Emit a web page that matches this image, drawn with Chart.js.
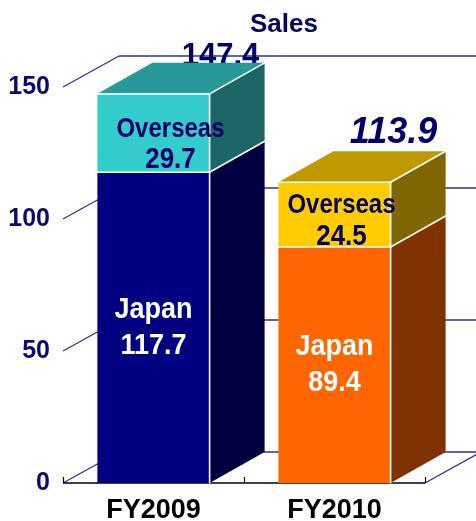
<!DOCTYPE html>
<html><head><meta charset="utf-8">
<script src="https://cdn.jsdelivr.net/npm/chart.js@4.4.1/dist/chart.umd.min.js"></script>
<style>html,body{margin:0;padding:0;background:#fff;overflow:hidden}</style>
</head><body>
<canvas id="c" width="476" height="521" style="width:476px;height:521px;display:block"></canvas>
<script>
const categories = ['FY2009', 'FY2010'];
const seriesNames = ['Japan', 'Overseas'];
const japanSales = [117.7, 89.4];
const overseasSales = [29.7, 24.5];
const yTickValues = [0, 50, 100, 150];
const chartTitle = 'Sales';

const FONT = "'Liberation Sans', Arial, Helvetica, sans-serif";
const NAVY = '#000066';
const GRID = '#2e2e98';
const DXW = 56, DYW = -31;   // wall depth
const DXB = 55, DYB = -31;   // bar depth
const colors = {
  japanFront: ['#000080', '#FF6600'],
  japanSide:  ['#000040', '#803300'],
  overFront:  ['#33CCCC', '#FFCC00'],
  overSide:   ['#1D6666', '#806600'],
  overTop:    ['#269999', '#BF9900']
};
const totalFonts = ['bold 31px ' + FONT, 'italic bold 36px ' + FONT];
const totalOffset = [[67, -29], [59, -39]];      // label anchor relative to bar front centre / top
const overseasOffset = [[17, -3], [7, -9]];      // first line relative to segment centre
const overseasGap = [30, 31];
const STRETCH = 1.12;

function poly(ctx, pts, fill) {
  ctx.beginPath();
  ctx.moveTo(pts[0][0], pts[0][1]);
  for (let i = 1; i < pts.length; i++) ctx.lineTo(pts[i][0], pts[i][1]);
  ctx.closePath();
  ctx.fillStyle = fill;
  ctx.fill();
}
function line(ctx, x1, y1, x2, y2, color, w) {
  ctx.beginPath();
  ctx.moveTo(x1, y1); ctx.lineTo(x2, y2);
  ctx.strokeStyle = color; ctx.lineWidth = w; ctx.stroke();
}
function tallText(ctx, txt, x, y) {
  ctx.save();
  ctx.translate(x, y);
  ctx.scale(1, STRETCH);
  ctx.fillText(txt, 0, 0);
  ctx.restore();
}

const threeD = {
  id: 'threeD',
  beforeDatasetsDraw(chart) {
    const ctx = chart.ctx, a = chart.chartArea, ys = chart.scales.y;
    ctx.save();
    yTickValues.forEach(v => {
      const py = ys.getPixelForValue(v);
      line(ctx, a.left, py, a.left + DXW, py + DYW, GRID, 1.3);
      line(ctx, a.left + DXW, py + DYW, a.right + DXW + 10, py + DYW, GRID, 1.3);
    });
    const y0 = ys.getPixelForValue(0);
    line(ctx, a.right, y0, a.right + DXW, y0 + DYW, GRID, 1.3);
    line(ctx, a.left, y0, a.right, y0, '#000000', 1.5);
    const step = a.width / categories.length;
    for (let k = 0; k <= categories.length; k++) {
      const x = Math.round(a.left + k * step) + 0.5;
      line(ctx, x, y0, x, y0 - 6, '#000000', 1.2);
    }
    const meta = chart.getDatasetMeta(1);
    ctx.textAlign = 'center';
    ctx.textBaseline = 'alphabetic';
    ctx.fillStyle = NAVY;
    meta.data.forEach((el, i) => {
      const total = (japanSales[i] + overseasSales[i]).toFixed(1);
      ctx.font = totalFonts[i];
      ctx.fillText(total, el.x + totalOffset[i][0], el.y + totalOffset[i][1]);
    });
    ctx.font = 'bold 26px ' + FONT;
    ctx.fillText(chartTitle, (a.left + a.right) / 2 + 40, 32);
    ctx.restore();
  },
  afterDatasetsDraw(chart) {
    const ctx = chart.ctx;
    ctx.save();
    const mJ = chart.getDatasetMeta(0), mO = chart.getDatasetMeta(1);
    mJ.data.forEach((elJ, i) => {
      const elO = mO.data[i];
      const l = elJ.x - elJ.width / 2, r = elJ.x + elJ.width / 2;
      const b = elJ.base, mid = elJ.y, top = elO.y;
      poly(ctx, [[r, b], [r, mid], [r + DXB, mid + DYB], [r + DXB, b + DYB]], colors.japanSide[i]);
      poly(ctx, [[r, mid], [r, top], [r + DXB, top + DYB], [r + DXB, mid + DYB]], colors.overSide[i]);
      poly(ctx, [[l, top], [l + DXB, top + DYB], [r + DXB, top + DYB], [r, top]], colors.overTop[i]);
      ctx.lineCap = 'round';
      line(ctx, l, mid, r, mid, '#ffffff', 1.6);
      line(ctx, r, mid, r + DXB, mid + DYB, '#ffffff', 1.6);
      line(ctx, l, top, r, top, '#ffffff', 1.6);
      line(ctx, r, top, r + DXB, top + DYB, '#ffffff', 1.6);
      line(ctx, r, top, r, b, '#ffffff', 1.6);
      ctx.textAlign = 'center';
      ctx.textBaseline = 'middle';
      const jc = (mid + b) / 2;
      ctx.fillStyle = '#ffffff';
      ctx.font = 'bold 27px ' + FONT;
      tallText(ctx, seriesNames[0], elJ.x, jc - 18);
      tallText(ctx, japanSales[i].toFixed(1), elJ.x, jc + 18);
      const oc = (top + mid) / 2;
      ctx.fillStyle = NAVY;
      ctx.font = 'bold 24px ' + FONT;
      tallText(ctx, seriesNames[1], elJ.x + overseasOffset[i][0], oc + overseasOffset[i][1]);
      ctx.font = 'bold 26px ' + FONT;
      tallText(ctx, overseasSales[i].toFixed(1), elJ.x + overseasOffset[i][0], oc + overseasOffset[i][1] + overseasGap[i]);
    });
    ctx.restore();
  }
};

new Chart(document.getElementById('c'), {
  type: 'bar',
  data: {
    labels: categories,
    datasets: [
      { label: seriesNames[0], data: japanSales, backgroundColor: colors.japanFront, borderWidth: 0 },
      { label: seriesNames[1], data: overseasSales, backgroundColor: colors.overFront, borderWidth: 0 }
    ]
  },
  options: {
    responsive: false,
    animation: false,
    devicePixelRatio: 1,
    layout: { padding: { top: 87, right: 51, left: 0, bottom: 0 } },
    plugins: { legend: { display: false }, tooltip: { enabled: false }, title: { display: false } },
    datasets: { bar: { categoryPercentage: 1, barPercentage: 0.62 } },
    scales: {
      x: {
        stacked: true,
        grid: { display: false, drawTicks: false },
        border: { display: false },
        ticks: { color: '#000000', font: { family: FONT, size: 27, weight: 'bold' }, padding: 11 },
        afterFit(s) { s.height = 38; }
      },
      y: {
        stacked: true,
        min: 0, max: 150,
        afterBuildTicks(s) { s.ticks = yTickValues.map(v => ({ value: v })); },
        grid: { display: false, drawTicks: false },
        border: { display: false },
        ticks: { color: '#0a0a70', font: { family: FONT, size: 25, weight: 'bold' }, padding: 13 },
        afterFit(s) { s.width = 63; }
      }
    }
  },
  plugins: [threeD]
});
</script>
</body></html>
